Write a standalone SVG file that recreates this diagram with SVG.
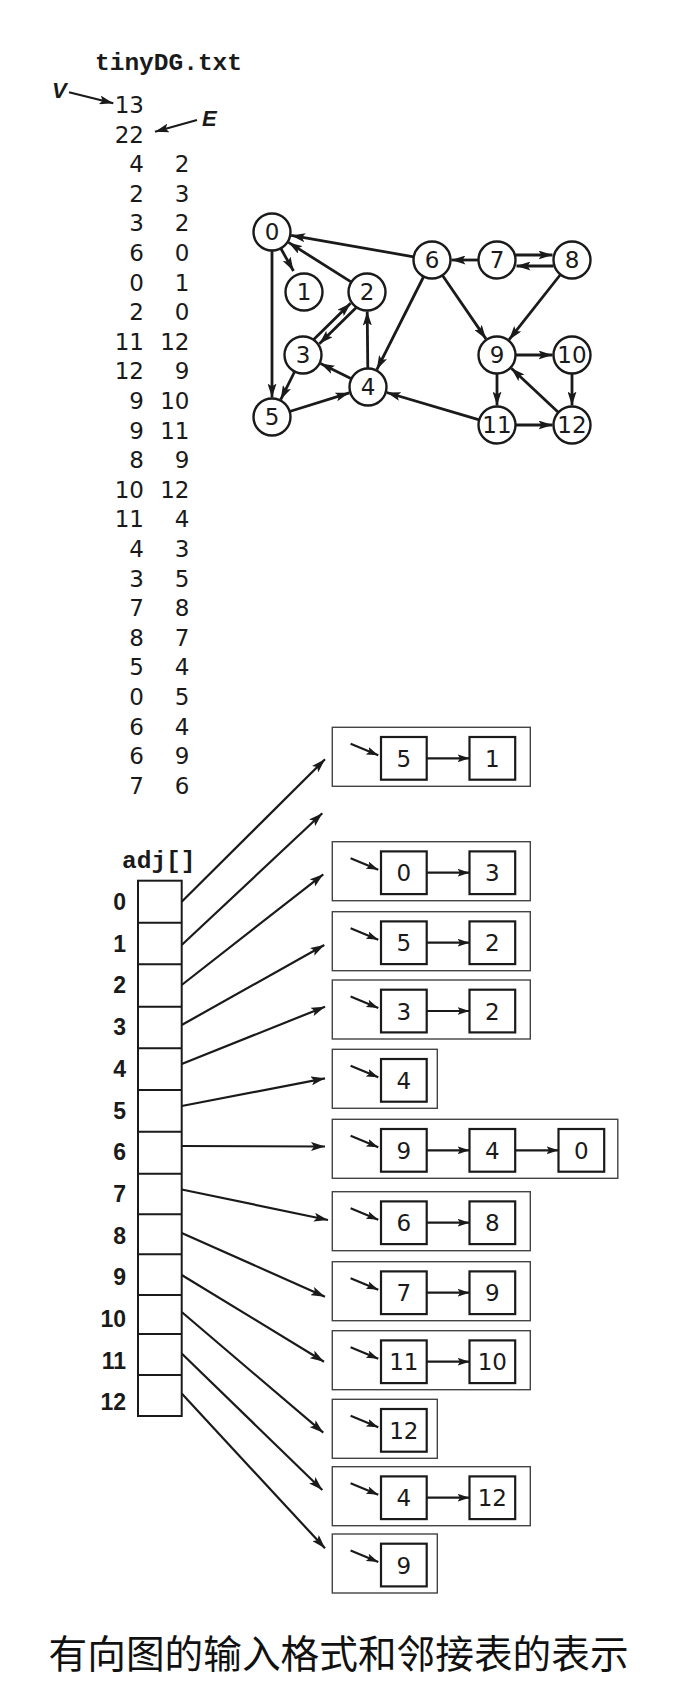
<svg xmlns="http://www.w3.org/2000/svg" width="687" height="1693" viewBox="0 0 687 1693">
<defs>
<style>
.t{font-family:"DejaVu Sans","Liberation Sans",sans-serif;font-size:23px;fill:#1a1a1a}
.c1{text-anchor:end}
.mid{text-anchor:middle}
.mono{font-family:"Liberation Mono","DejaVu Sans Mono",monospace;font-weight:bold;font-size:24.5px;fill:#1a1a1a}
.lbl{font-family:"Liberation Sans","DejaVu Sans",sans-serif;font-weight:bold;font-size:23px;fill:#1a1a1a;text-anchor:end}
.it{font-family:"Liberation Sans","DejaVu Sans",sans-serif;font-weight:bold;font-style:italic;font-size:22px;fill:#1a1a1a}
.nd{fill:#fff;stroke:#1a1a1a;stroke-width:2.4}
.edge{stroke:#1a1a1a;stroke-width:2.8;fill:none;marker-end:url(#ah)}
.ptr{stroke:#1a1a1a;stroke-width:2.2;fill:none;marker-end:url(#ah)}
.sp{stroke:#1a1a1a;stroke-width:2.2;fill:none;marker-end:url(#ahs)}
.outer{fill:none;stroke:#444;stroke-width:1.4}
.inner{fill:#fff;stroke:#1a1a1a;stroke-width:2.2}
.cell{fill:#fff;stroke:#1a1a1a;stroke-width:2}
.cap{font-family:"Noto Sans CJK SC","Noto Sans CJK TC",sans-serif;font-size:39px;fill:#111}
</style>
<marker id="ah" viewBox="0 0 14 9" refX="14" refY="4.5" markerWidth="14" markerHeight="9" markerUnits="userSpaceOnUse" orient="auto"><path d="M0,0 L14,4.5 L0,9 L3,4.5 z" fill="#1a1a1a"/></marker>
<marker id="ahs" viewBox="0 0 12 8" refX="12" refY="4" markerWidth="12" markerHeight="8" markerUnits="userSpaceOnUse" orient="auto"><path d="M0,0 L12,4 L0,8 L2.5,4 z" fill="#1a1a1a"/></marker>
</defs>
<rect width="687" height="1693" fill="#fff"/>

<g id="file-text">
<text class="mono" x="95" y="70">tinyDG.txt</text>
<text class="it" x="52" y="98">V</text>
<line class="ptr" x1="69" y1="92.3" x2="113.3" y2="103.3"/>
<text class="it" x="202" y="126">E</text>
<line class="ptr" x1="197" y1="120" x2="155" y2="131.7"/>
<g class="t c1">
<text x="144" y="113">13</text>
<text x="144" y="142.6">22</text>
<text x="144" y="172.2">4</text><text x="189.5" y="172.2">2</text>
<text x="144" y="201.8">2</text><text x="189.5" y="201.8">3</text>
<text x="144" y="231.4">3</text><text x="189.5" y="231.4">2</text>
<text x="144" y="261">6</text><text x="189.5" y="261">0</text>
<text x="144" y="290.6">0</text><text x="189.5" y="290.6">1</text>
<text x="144" y="320.2">2</text><text x="189.5" y="320.2">0</text>
<text x="144" y="349.8">11</text><text x="189.5" y="349.8">12</text>
<text x="144" y="379.4">12</text><text x="189.5" y="379.4">9</text>
<text x="144" y="409">9</text><text x="189.5" y="409">10</text>
<text x="144" y="438.6">9</text><text x="189.5" y="438.6">11</text>
<text x="144" y="468.2">8</text><text x="189.5" y="468.2">9</text>
<text x="144" y="497.8">10</text><text x="189.5" y="497.8">12</text>
<text x="144" y="527.4">11</text><text x="189.5" y="527.4">4</text>
<text x="144" y="557">4</text><text x="189.5" y="557">3</text>
<text x="144" y="586.6">3</text><text x="189.5" y="586.6">5</text>
<text x="144" y="616.2">7</text><text x="189.5" y="616.2">8</text>
<text x="144" y="645.8">8</text><text x="189.5" y="645.8">7</text>
<text x="144" y="675.4">5</text><text x="189.5" y="675.4">4</text>
<text x="144" y="705">0</text><text x="189.5" y="705">5</text>
<text x="144" y="734.6">6</text><text x="189.5" y="734.6">4</text>
<text x="144" y="764.2">6</text><text x="189.5" y="764.2">9</text>
<text x="144" y="793.8">7</text><text x="189.5" y="793.8">6</text>
</g>
</g>

<g id="connectors">
<line class="edge" x1="367.8" y1="368.5" x2="367.2" y2="311.5"/>
<line class="edge" x1="356.3" y1="307.5" x2="319.4" y2="343.8"/>
<line class="edge" x1="313.7" y1="339.5" x2="350.6" y2="303.2"/>
<line class="edge" x1="413.8" y1="256.8" x2="291.2" y2="235.4"/>
<line class="edge" x1="280.7" y1="248.3" x2="293.5" y2="271"/>
<line class="edge" x1="351.4" y1="282.1" x2="288.5" y2="242.4"/>
<line class="edge" x1="515.5" y1="425" x2="552.5" y2="425"/>
<line class="edge" x1="558.5" y1="412.4" x2="511.3" y2="368.3"/>
<line class="edge" x1="515.5" y1="355" x2="552.5" y2="355"/>
<line class="edge" x1="497" y1="373.5" x2="497" y2="405.5"/>
<line class="edge" x1="560.5" y1="274.5" x2="509.1" y2="339.7"/>
<line class="edge" x1="572" y1="373.5" x2="572" y2="405.5"/>
<line class="edge" x1="479.3" y1="419.8" x2="386.7" y2="392.5"/>
<line class="edge" x1="351.4" y1="378.8" x2="320.5" y2="363.6"/>
<line class="edge" x1="294.7" y1="371.5" x2="280.7" y2="399.6"/>
<line class="edge" x1="515.5" y1="255" x2="552.5" y2="255"/>
<line class="edge" x1="553.5" y1="266" x2="516.5" y2="266"/>
<line class="edge" x1="289.6" y1="411.5" x2="349.4" y2="392.8"/>
<line class="edge" x1="272" y1="250.5" x2="272" y2="397.5"/>
<line class="edge" x1="423.7" y1="276.5" x2="376.8" y2="369.6"/>
<line class="edge" x1="442.4" y1="275.3" x2="486" y2="338.9"/>
<line class="edge" x1="478.5" y1="260" x2="451.5" y2="260"/>

<line class="ptr" x1="181.7" y1="901.7" x2="325" y2="759.3"/>
<line class="ptr" x1="181.7" y1="945" x2="322.3" y2="813.3"/>
<line class="ptr" x1="181.7" y1="985" x2="323.3" y2="874.3"/>
<line class="ptr" x1="181.7" y1="1025" x2="324.3" y2="945"/>
<line class="ptr" x1="181.7" y1="1064" x2="325" y2="1006.7"/>
<line class="ptr" x1="181.7" y1="1106" x2="325" y2="1078.3"/>
<line class="ptr" x1="181.7" y1="1146" x2="325" y2="1146.5"/>
<line class="ptr" x1="181.7" y1="1189.5" x2="328" y2="1220"/>
<line class="ptr" x1="181.7" y1="1233" x2="325" y2="1296.7"/>
<line class="ptr" x1="181.7" y1="1275" x2="324" y2="1361.7"/>
<line class="ptr" x1="181.7" y1="1312" x2="323.3" y2="1432.7"/>
<line class="ptr" x1="181.7" y1="1353.5" x2="322.3" y2="1490"/>
<line class="ptr" x1="181.7" y1="1393.5" x2="325" y2="1548.3"/>
</g>

<g id="node-0"><circle class="nd" cx="272" cy="232" r="18.5"/><text class="t mid" x="272" y="240.4">0</text></g>
<g id="node-1"><circle class="nd" cx="304" cy="292" r="18.5"/><text class="t mid" x="304" y="300.4">1</text></g>
<g id="node-2"><circle class="nd" cx="367" cy="292" r="18.5"/><text class="t mid" x="367" y="300.4">2</text></g>
<g id="node-3"><circle class="nd" cx="303" cy="355" r="18.5"/><text class="t mid" x="303" y="363.4">3</text></g>
<g id="node-4"><circle class="nd" cx="368" cy="387" r="18.5"/><text class="t mid" x="368" y="395.4">4</text></g>
<g id="node-5"><circle class="nd" cx="272" cy="417" r="18.5"/><text class="t mid" x="272" y="425.4">5</text></g>
<g id="node-6"><circle class="nd" cx="432" cy="260" r="18.5"/><text class="t mid" x="432" y="268.4">6</text></g>
<g id="node-7"><circle class="nd" cx="497" cy="260" r="18.5"/><text class="t mid" x="497" y="268.4">7</text></g>
<g id="node-8"><circle class="nd" cx="572" cy="260" r="18.5"/><text class="t mid" x="572" y="268.4">8</text></g>
<g id="node-9"><circle class="nd" cx="497" cy="355" r="18.5"/><text class="t mid" x="497" y="363.4">9</text></g>
<g id="node-10"><circle class="nd" cx="572" cy="355" r="18.5"/><text class="t mid" x="572" y="363.4">10</text></g>
<g id="node-11"><circle class="nd" cx="497" cy="425" r="18.5"/><text class="t mid" x="497" y="433.4">11</text></g>
<g id="node-12"><circle class="nd" cx="572" cy="425" r="18.5"/><text class="t mid" x="572" y="433.4">12</text></g>

<g id="adj-array">
<text class="mono" x="122" y="868">adj[]</text>
<rect class="cell" x="138" y="880.7" width="43.7" height="535.3"/>
<path d="M138,922.7H181.7M138,964.3H181.7M138,1006.7H181.7M138,1048.3H181.7M138,1090H181.7M138,1131.7H181.7M138,1173.7H181.7M138,1214.3H181.7M138,1254.3H181.7M138,1295H181.7M138,1334H181.7M138,1375H181.7" stroke="#1a1a1a" stroke-width="2" fill="none"/>
<text class="lbl" x="126" y="910">0</text>
<text class="lbl" x="126" y="951.7">1</text>
<text class="lbl" x="126" y="993.4">2</text>
<text class="lbl" x="126" y="1035.1">3</text>
<text class="lbl" x="126" y="1076.8">4</text>
<text class="lbl" x="126" y="1118.5">5</text>
<text class="lbl" x="126" y="1160.2">6</text>
<text class="lbl" x="126" y="1201.9">7</text>
<text class="lbl" x="126" y="1243.6">8</text>
<text class="lbl" x="126" y="1285.3">9</text>
<text class="lbl" x="126" y="1327">10</text>
<text class="lbl" x="126" y="1368.7">11</text>
<text class="lbl" x="126" y="1410.4">12</text>
</g>

<g id="list-0">
<rect class="outer" x="332.3" y="727.3" width="198" height="59"/>
<line class="sp" x1="350.6" y1="743.8" x2="378.3" y2="755.3"/>
<rect class="inner" x="381" y="737" width="45.7" height="42.7"/><text class="t mid" x="403.85" y="766.8">5</text>
<line class="sp" x1="426.7" y1="758.3" x2="469.5" y2="758.3"/>
<rect class="inner" x="469.5" y="737" width="45.7" height="42.7"/><text class="t mid" x="492.35" y="766.8">1</text>
</g>
<g id="list-2">
<rect class="outer" x="332.3" y="841.7" width="198" height="59"/>
<line class="sp" x1="350.6" y1="858.2" x2="378.3" y2="869.7"/>
<rect class="inner" x="381" y="851.4" width="45.7" height="42.7"/><text class="t mid" x="403.85" y="881.2">0</text>
<line class="sp" x1="426.7" y1="872.7" x2="469.5" y2="872.7"/>
<rect class="inner" x="469.5" y="851.4" width="45.7" height="42.7"/><text class="t mid" x="492.35" y="881.2">3</text>
</g>
<g id="list-3">
<rect class="outer" x="332.3" y="911.7" width="198" height="59"/>
<line class="sp" x1="350.6" y1="928.2" x2="378.3" y2="939.7"/>
<rect class="inner" x="381" y="921.4" width="45.7" height="42.7"/><text class="t mid" x="403.85" y="951.2">5</text>
<line class="sp" x1="426.7" y1="942.7" x2="469.5" y2="942.7"/>
<rect class="inner" x="469.5" y="921.4" width="45.7" height="42.7"/><text class="t mid" x="492.35" y="951.2">2</text>
</g>
<g id="list-4">
<rect class="outer" x="332.3" y="980" width="198" height="59"/>
<line class="sp" x1="350.6" y1="996.5" x2="378.3" y2="1008"/>
<rect class="inner" x="381" y="989.7" width="45.7" height="42.7"/><text class="t mid" x="403.85" y="1019.5">3</text>
<line class="sp" x1="426.7" y1="1011" x2="469.5" y2="1011"/>
<rect class="inner" x="469.5" y="989.7" width="45.7" height="42.7"/><text class="t mid" x="492.35" y="1019.5">2</text>
</g>
<g id="list-5">
<rect class="outer" x="332.3" y="1049.3" width="105" height="59"/>
<line class="sp" x1="350.6" y1="1065.8" x2="378.3" y2="1077.3"/>
<rect class="inner" x="381" y="1059" width="45.7" height="42.7"/><text class="t mid" x="403.85" y="1088.8">4</text>
</g>
<g id="list-6">
<rect class="outer" x="332.3" y="1119.3" width="285.5" height="59"/>
<line class="sp" x1="350.6" y1="1135.8" x2="378.3" y2="1147.3"/>
<rect class="inner" x="381" y="1129" width="45.7" height="42.7"/><text class="t mid" x="403.85" y="1158.8">9</text>
<line class="sp" x1="426.7" y1="1150.3" x2="469.5" y2="1150.3"/>
<rect class="inner" x="469.5" y="1129" width="45.7" height="42.7"/><text class="t mid" x="492.35" y="1158.8">4</text>
<line class="sp" x1="515.2" y1="1150.3" x2="558.5" y2="1150.3"/>
<rect class="inner" x="558.5" y="1129" width="45.7" height="42.7"/><text class="t mid" x="581.35" y="1158.8">0</text>
</g>
<g id="list-7">
<rect class="outer" x="332.3" y="1191.7" width="198" height="59"/>
<line class="sp" x1="350.6" y1="1208.2" x2="378.3" y2="1219.7"/>
<rect class="inner" x="381" y="1201.4" width="45.7" height="42.7"/><text class="t mid" x="403.85" y="1231.2">6</text>
<line class="sp" x1="426.7" y1="1222.7" x2="469.5" y2="1222.7"/>
<rect class="inner" x="469.5" y="1201.4" width="45.7" height="42.7"/><text class="t mid" x="492.35" y="1231.2">8</text>
</g>
<g id="list-8">
<rect class="outer" x="332.3" y="1261.7" width="198" height="59"/>
<line class="sp" x1="350.6" y1="1278.2" x2="378.3" y2="1289.7"/>
<rect class="inner" x="381" y="1271.4" width="45.7" height="42.7"/><text class="t mid" x="403.85" y="1301.2">7</text>
<line class="sp" x1="426.7" y1="1292.7" x2="469.5" y2="1292.7"/>
<rect class="inner" x="469.5" y="1271.4" width="45.7" height="42.7"/><text class="t mid" x="492.35" y="1301.2">9</text>
</g>
<g id="list-9">
<rect class="outer" x="332.3" y="1330.7" width="198" height="59"/>
<line class="sp" x1="350.6" y1="1347.2" x2="378.3" y2="1358.7"/>
<rect class="inner" x="381" y="1340.4" width="45.7" height="42.7"/><text class="t mid" x="403.85" y="1370.2">11</text>
<line class="sp" x1="426.7" y1="1361.7" x2="469.5" y2="1361.7"/>
<rect class="inner" x="469.5" y="1340.4" width="45.7" height="42.7"/><text class="t mid" x="492.35" y="1370.2">10</text>
</g>
<g id="list-10">
<rect class="outer" x="332.3" y="1399.3" width="105" height="59"/>
<line class="sp" x1="350.6" y1="1415.8" x2="378.3" y2="1427.3"/>
<rect class="inner" x="381" y="1409" width="45.7" height="42.7"/><text class="t mid" x="403.85" y="1438.8">12</text>
</g>
<g id="list-11">
<rect class="outer" x="332.3" y="1466.7" width="198" height="59"/>
<line class="sp" x1="350.6" y1="1483.2" x2="378.3" y2="1494.7"/>
<rect class="inner" x="381" y="1476.4" width="45.7" height="42.7"/><text class="t mid" x="403.85" y="1506.2">4</text>
<line class="sp" x1="426.7" y1="1497.7" x2="469.5" y2="1497.7"/>
<rect class="inner" x="469.5" y="1476.4" width="45.7" height="42.7"/><text class="t mid" x="492.35" y="1506.2">12</text>
</g>
<g id="list-12">
<rect class="outer" x="332.3" y="1534" width="105" height="59"/>
<line class="sp" x1="350.6" y1="1550.5" x2="378.3" y2="1562"/>
<rect class="inner" x="381" y="1543.7" width="45.7" height="42.7"/><text class="t mid" x="403.85" y="1573.5">9</text>
</g>

<g id="caption">
<text class="cap" x="48.6" y="1668" textLength="580" lengthAdjust="spacingAndGlyphs">有向图的输入格式和邻接表的表示</text>
</g>
</svg>
